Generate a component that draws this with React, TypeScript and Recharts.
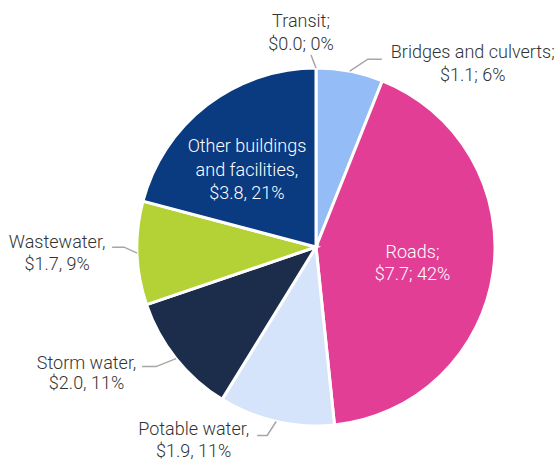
import React from 'react';
import { PieChart, Pie, Cell } from 'recharts';

const categories = [
  'Transit',
  'Bridges and culverts',
  'Roads',
  'Potable water',
  'Storm water',
  'Wastewater',
  'Other buildings and facilities',
];
const values = [0.0, 1.1, 7.7, 1.9, 2.0, 1.7, 3.8];
const percents = [0, 6, 42, 11, 11, 9, 21];
const separators = [';', ';', ';', ',', ',', ',', ','];
const nameLines = [
  ['Transit'],
  ['Bridges and culverts'],
  ['Roads'],
  ['Potable water'],
  ['Storm water'],
  ['Wastewater'],
  ['Other buildings', 'and facilities'],
];
const colors = ['#8fb6ee', '#94bcf6', '#e33e95', '#d5e4fa', '#1c2d4b', '#b4d235', '#0a3a7f'];

const data = categories.map((name, i) => ({ name, value: values[i] }));

const FONT = "Roboto, 'Liberation Sans', Arial, sans-serif";
const FONT_SIZE = 18;
const FONT_WEIGHT = 300;
const TEXT_COLOR = '#333333';
const LINE_COLOR = '#a6a6a6';

// outside label layout: elbow offset from edge point, horizontal run, text centre offset from end of run
type Outside = { elbow: [number, number]; run: number; textDx: number; base: [number, number] };
const outside: Record<number, Outside> = {
  0: { elbow: [-5, -13], run: 0, textDx: -10, base: [-28, -5] },
  1: { elbow: [18, -12], run: 14, textDx: 91, base: [-1, 22] },
  3: { elbow: [-9, 14], run: -10, textDx: -63.5, base: [-1, 21] },
  4: { elbow: [-20, 8], run: -14, textDx: -55.5, base: [2, 22] },
  5: { elbow: [-13, -6], run: -12, textDx: -55, base: [1, 23] },
};
// inside label tweaks
const inside: Record<number, { dx: number; dy: number; lh: number }> = {
  2: { dx: -1, dy: 2, lh: 22 },
  6: { dx: -9, dy: 1, lh: 23.5 },
};

const RAD = Math.PI / 180;

function labelLinesFor(i: number): string[] {
  const sep = separators[i];
  const names = nameLines[i].slice();
  names[names.length - 1] = names[names.length - 1] + sep;
  return [...names, `$${values[i].toFixed(1)}${sep} ${percents[i]}%`];
}

function renderLabel(props: any) {
  const { cx, cy, midAngle, outerRadius, index } = props;
  const lines = labelLinesFor(index);
  const cos = Math.cos(-midAngle * RAD);
  const sin = Math.sin(-midAngle * RAD);
  if (inside[index]) {
    const t = inside[index];
    const r = outerRadius * 0.55;
    const x = cx + r * cos + t.dx;
    const yc = cy + r * sin + t.dy;
    const n = lines.length;
    return (
      <text
        key={`l${index}`}
        x={x}
        y={yc}
        textAnchor="middle"
        fill="#ffffff"
        fontFamily={FONT}
        fontSize={FONT_SIZE}
        fontWeight={FONT_WEIGHT}
      >
        {lines.map((ln, k) => (
          <tspan key={k} x={x} y={yc + (k - (n - 1) / 2) * t.lh + 6}>
            {ln}
          </tspan>
        ))}
      </text>
    );
  }
  const o = outside[index];
  if (!o) return null;
  const px = cx + outerRadius * cos;
  const py = cy + outerRadius * sin;
  const ex = px + o.elbow[0];
  const ey = py + o.elbow[1];
  const hx = ex + o.run;
  const hy = ey;
  const tx = hx + o.textDx;
  return (
    <g key={`l${index}`}>
      <polyline points={`${px},${py} ${ex},${ey} ${hx},${hy}`} fill="none" stroke={LINE_COLOR} strokeWidth={1.5} />
      <text
        x={tx}
        y={hy}
        textAnchor="middle"
        fill={TEXT_COLOR}
        fontFamily={FONT}
        fontSize={FONT_SIZE}
        fontWeight={FONT_WEIGHT}
      >
        {lines.map((ln, k) => (
          <tspan key={k} x={tx} y={hy + o.base[k]}>
            {ln}
          </tspan>
        ))}
      </text>
    </g>
  );
}

export default function App() {
  return (
    <div style={{ position: 'absolute', left: 0, top: 0, width: 559, height: 462, background: '#ffffff' }}>
      <PieChart width={559} height={462} margin={{ top: 0, right: 0, bottom: 0, left: 0 }}>
        <Pie
          data={data}
          dataKey="value"
          nameKey="name"
          cx={316}
          cy={247}
          outerRadius={179}
          startAngle={90}
          endAngle={-270}
          stroke="#ffffff"
          strokeWidth={3}
          label={renderLabel}
          labelLine={false}
          isAnimationActive={false}
        >
          {data.map((d, i) => (
            <Cell key={d.name} fill={colors[i]} />
          ))}
        </Pie>
      </PieChart>
    </div>
  );
}
